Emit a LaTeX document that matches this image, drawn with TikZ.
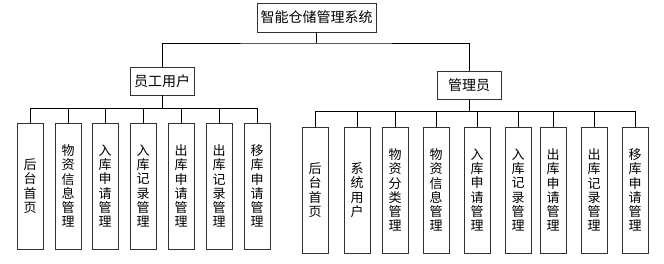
\documentclass[tikz,border=0pt]{standalone}
\usepackage{fontspec}
\newfontfamily\cjk{Noto Sans CJK SC}
\tikzset{
  box/.style={draw=black!80, line width=0.8pt, fill=white, inner sep=0pt, font=\cjk\fontsize{13}{14.3}\selectfont},
  topbox/.style={box, minimum width=119pt, minimum height=29pt, font=\cjk\fontsize{14}{16}\selectfont},
  midbox/.style={box, minimum width=64pt, minimum height=28pt, font=\cjk\fontsize{14}{16}\selectfont},
  leaf/.style={box, minimum width=26pt, minimum height=126pt, align=center},
  link/.style={draw=black, line width=0.8pt}
}
\begin{document}
\begin{tikzpicture}[x=1pt,y=-1pt]
\useasboundingbox (0,0) rectangle (664,263);
\node[topbox] (root) at (316.5,17.5) {智能仓储管理系统};
\node[midbox] (staff) at (162,81) {员工用户};
\node[midbox] (admin) at (469,85.5) {管理员};
\coordinate (rootj) at (316.5,43);
\draw[link] (root.south) -- (rootj);
\draw[link] (staff.north) |- (rootj) -| (admin.north);
% staff leaves
\foreach \n/\x/\t in {s1/30/{后\\台\\首\\页}, s2/68/{物\\资\\信\\息\\管\\理}, s3/105/{入\\库\\申\\请\\管\\理}, s4/143/{入\\库\\记\\录\\管\\理}, s5/181/{出\\库\\申\\请\\管\\理}, s6/219/{出\\库\\记\\录\\管\\理}, s7/257/{移\\库\\申\\请\\管\\理}}{
  \node[leaf] (\n) at (\x,186) {\t};
}
\coordinate (staffj) at (162,108);
\draw[link] (staff.south) -- (staffj);
\foreach \n in {s1,s2,s3,s4,s5,s6,s7}{
  \draw[link] (\n.north) |- (staffj);
}
% admin leaves
\foreach \n/\x/\t in {a1/315/{后\\台\\首\\页}, a2/357/{系\\统\\用\\户}, a3/395/{物\\资\\分\\类\\管\\理}, a4/436/{物\\资\\信\\息\\管\\理}, a5/477/{入\\库\\申\\请\\管\\理}, a6/518/{入\\库\\记\\录\\管\\理}, a7/553/{出\\库\\申\\请\\管\\理}, a8/594/{出\\库\\记\\录\\管\\理}, a9/635/{移\\库\\申\\请\\管\\理}}{
  \node[leaf] (\n) at (\x,190) {\t};
}
\coordinate (adminj) at (469,111);
\draw[link] (admin.south) -- (adminj);
\foreach \n in {a1,a2,a3,a4,a5,a6,a7,a8,a9}{
  \draw[link] (\n.north) |- (adminj);
}
\end{tikzpicture}
\end{document}
